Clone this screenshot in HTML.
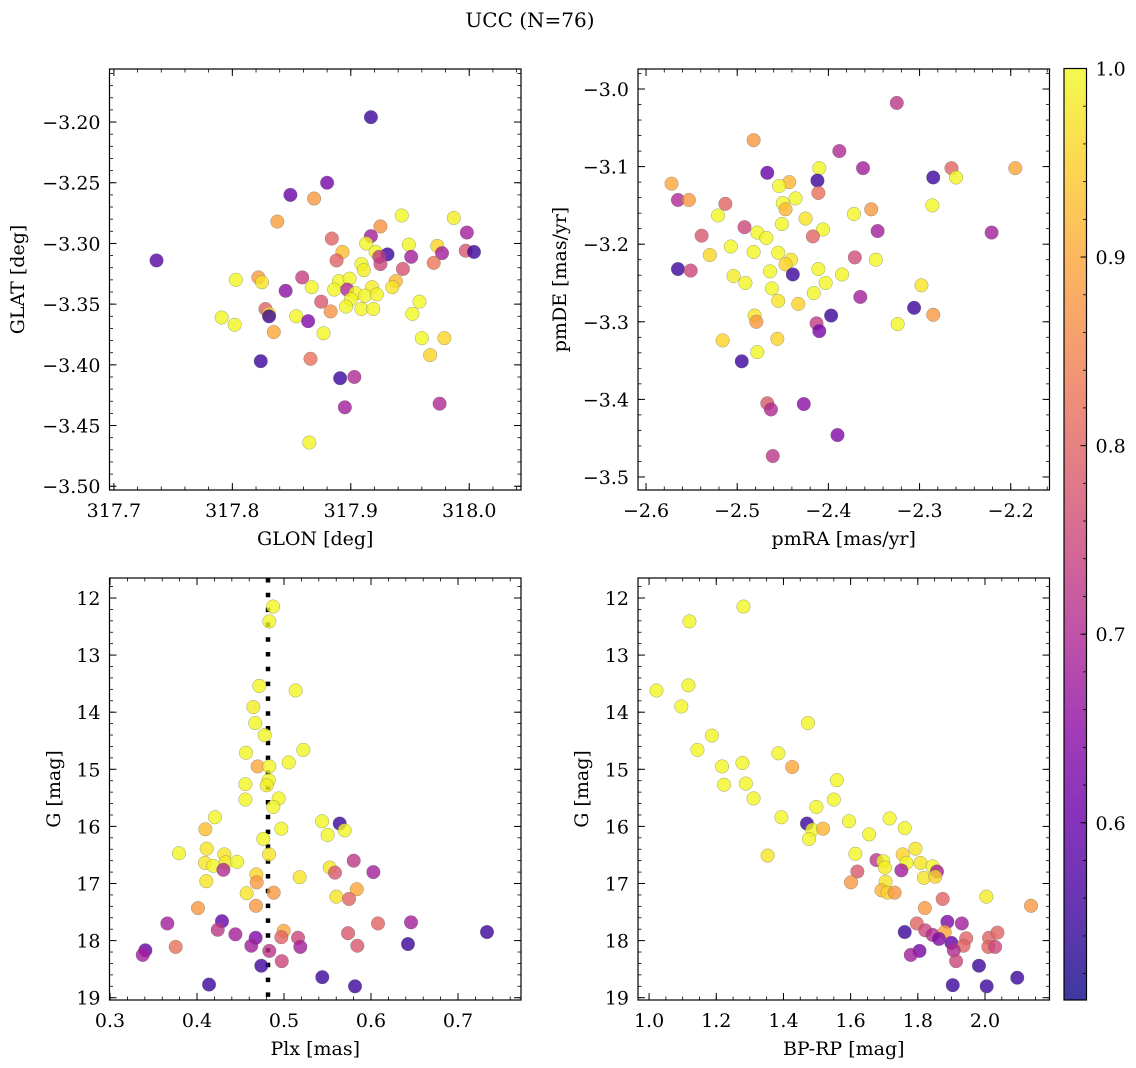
<!DOCTYPE html>
<html><head><meta charset="utf-8"><style>
html,body{margin:0;padding:0;background:#fff;}
svg{display:block;font-family:"DejaVu Serif","Liberation Serif",serif;}
</style></head><body>
<svg id="fig" width="1136" height="1068" viewBox="0 0 1136 1068" xmlns="http://www.w3.org/2000/svg">
<text x="530" y="27" font-size="20" text-anchor="middle">UCC (N=76)</text>
</svg>
<script>
// ---------- Panel 1 data: GLON / GLAT ----------
const glon = [317.917,317.736,317.880,317.849,317.869,317.838,317.943,317.987,317.925,317.917,317.998,317.884,317.913,317.949,317.973,317.997,318.004,317.893,317.921,317.931,317.977,317.951,317.888,317.925,317.970,317.909,317.911,317.944,317.803,317.822,317.825,317.859,317.867,317.890,317.899,317.938,317.935,317.918,317.886,317.897,317.845,317.904,317.912,317.922,317.900,317.958,317.875,317.896,317.909,317.919,317.883,317.828,317.831,317.831,317.952,317.854,317.791,317.802,317.864,317.835,317.877,317.960,317.979,317.967,317.866,317.824,317.891,317.903,317.895,317.975,317.865,317.924];
const glat = [-3.196,-3.314,-3.250,-3.260,-3.263,-3.282,-3.277,-3.279,-3.286,-3.294,-3.291,-3.296,-3.300,-3.301,-3.302,-3.306,-3.307,-3.307,-3.307,-3.309,-3.308,-3.311,-3.314,-3.317,-3.316,-3.317,-3.322,-3.321,-3.330,-3.328,-3.332,-3.328,-3.336,-3.331,-3.329,-3.331,-3.336,-3.336,-3.338,-3.338,-3.339,-3.341,-3.343,-3.342,-3.346,-3.348,-3.348,-3.352,-3.354,-3.354,-3.356,-3.354,-3.358,-3.360,-3.358,-3.360,-3.361,-3.367,-3.364,-3.373,-3.374,-3.378,-3.378,-3.392,-3.395,-3.397,-3.411,-3.410,-3.435,-3.432,-3.464,-3.311];
const prob1 = [0.55,0.58,0.62,0.6,0.88,0.89,1.0,0.985,0.87,0.68,0.68,0.8,0.995,0.995,0.955,0.78,0.55,0.93,0.995,0.55,0.68,0.68,0.8,0.75,0.83,0.995,0.985,0.77,0.995,0.88,0.975,0.74,0.995,0.995,0.995,0.92,0.975,0.985,0.995,0.7,0.65,0.995,0.995,0.995,0.995,1.0,0.78,0.995,0.995,0.995,0.87,0.8,0.975,0.55,1.0,0.995,0.995,0.995,0.63,0.9,0.995,1.0,0.96,0.955,0.82,0.55,0.55,0.7,0.68,0.7,0.995,0.73];
// ---------- Panel 2 data: pmRA / pmDE ----------
const pmra = [-2.325,-2.482,-2.388,-2.362,-2.410,-2.265,-2.195,-2.467,-2.285,-2.260,-2.412,-2.572,-2.443,-2.454,-2.411,-2.565,-2.553,-2.436,-2.513,-2.450,-2.447,-2.286,-2.353,-2.521,-2.372,-2.425,-2.451,-2.492,-2.406,-2.346,-2.221,-2.478,-2.468,-2.417,-2.539,-2.507,-2.482,-2.455,-2.530,-2.371,-2.348,-2.441,-2.447,-2.565,-2.551,-2.464,-2.411,-2.439,-2.504,-2.385,-2.491,-2.403,-2.462,-2.298,-2.416,-2.365,-2.455,-2.433,-2.306,-2.285,-2.397,-2.481,-2.479,-2.324,-2.413,-2.410,-2.516,-2.456,-2.478,-2.495,-2.467,-2.463,-2.427,-2.390,-2.461];
const pmde = [-3.018,-3.066,-3.080,-3.102,-3.102,-3.102,-3.102,-3.108,-3.114,-3.114,-3.118,-3.122,-3.120,-3.125,-3.134,-3.143,-3.143,-3.141,-3.148,-3.147,-3.155,-3.150,-3.155,-3.163,-3.161,-3.167,-3.174,-3.178,-3.181,-3.183,-3.185,-3.185,-3.192,-3.190,-3.189,-3.203,-3.210,-3.211,-3.214,-3.217,-3.220,-3.220,-3.226,-3.232,-3.234,-3.235,-3.232,-3.239,-3.241,-3.239,-3.250,-3.250,-3.257,-3.253,-3.263,-3.268,-3.273,-3.277,-3.282,-3.291,-3.292,-3.292,-3.300,-3.303,-3.302,-3.312,-3.324,-3.322,-3.339,-3.351,-3.405,-3.413,-3.406,-3.446,-3.473];
const prob2 = [0.72,0.88,0.7,0.68,0.995,0.8,0.9,0.6,0.55,0.995,0.55,0.9,0.92,0.995,0.82,0.7,0.88,0.995,0.8,0.995,0.92,0.995,0.88,0.995,0.995,0.975,0.995,0.75,0.995,0.68,0.68,0.995,0.995,0.8,0.78,0.995,0.995,0.995,0.96,0.76,0.995,0.975,0.955,0.55,0.75,0.995,0.995,0.55,0.985,0.995,0.995,0.995,0.995,0.975,0.995,0.68,0.975,0.955,0.55,0.88,0.55,0.975,0.88,0.995,0.73,0.62,0.955,0.955,0.995,0.55,0.78,0.7,0.65,0.63,0.72];
// ---------- Panel 3 data: Plx / G ----------
const plx = [0.4874,0.4831,0.4716,0.5134,0.4647,0.4670,0.4778,0.5222,0.4563,0.5054,0.4697,0.4831,0.4824,0.4556,0.4801,0.4556,0.4939,0.4877,0.4207,0.5437,0.5640,0.5697,0.4096,0.4969,0.5502,0.4762,0.3793,0.4111,0.4314,0.4828,0.5801,0.4092,0.4188,0.4330,0.4460,0.4303,0.5525,0.5586,0.6027,0.4107,0.4682,0.4686,0.5180,0.5836,0.4571,0.4881,0.5602,0.5747,0.4011,0.4678,0.3659,0.4287,0.6080,0.6460,0.7333,0.4238,0.4441,0.4674,0.4996,0.4969,0.5161,0.5736,0.4624,0.4831,0.5187,0.5843,0.6425,0.3755,0.3406,0.3376,0.4974,0.4739,0.5440,0.4138,0.5816];
const gmag3 = [12.15,12.41,13.54,13.62,13.91,14.19,14.40,14.66,14.71,14.88,14.95,14.95,15.19,15.26,15.28,15.53,15.51,15.66,15.84,15.91,15.95,16.07,16.05,16.04,16.15,16.22,16.47,16.39,16.49,16.49,16.60,16.64,16.69,16.63,16.62,16.76,16.72,16.81,16.80,16.96,16.84,16.98,16.89,17.10,17.17,17.16,17.23,17.27,17.43,17.39,17.70,17.66,17.70,17.68,17.85,17.81,17.89,17.95,17.83,17.94,17.95,17.87,18.09,18.18,18.11,18.09,18.06,18.11,18.17,18.25,18.36,18.44,18.64,18.77,18.80];
const prob3 = [0.995,0.995,0.995,0.995,0.985,0.995,0.995,0.995,0.995,0.995,0.9,0.995,0.995,0.995,0.985,0.995,0.995,0.995,0.995,0.995,0.55,0.995,0.93,0.995,0.995,0.995,0.995,0.975,0.975,0.975,0.72,0.975,0.995,0.985,0.995,0.7,0.975,0.78,0.68,0.975,0.955,0.88,0.975,0.9,0.975,0.88,0.975,0.8,0.88,0.88,0.68,0.6,0.8,0.68,0.55,0.72,0.68,0.63,0.9,0.8,0.75,0.78,0.68,0.72,0.68,0.78,0.55,0.82,0.6,0.68,0.75,0.55,0.55,0.55,0.55];
const plxLine = 0.4816;
// ---------- Panel 4 data: BP-RP / G ----------
const bprp = [1.281,1.120,1.022,1.117,1.096,1.473,1.187,1.144,1.385,1.426,1.217,1.278,1.223,1.288,1.559,1.311,1.550,1.498,1.394,1.595,1.470,1.716,1.486,1.518,1.476,1.761,1.655,1.353,1.614,1.793,1.677,1.697,1.755,1.766,1.808,1.702,1.620,1.751,1.844,1.857,1.818,1.852,1.601,1.704,1.692,1.710,1.731,2.004,1.874,2.137,1.821,1.797,1.888,1.931,1.761,1.822,1.844,1.880,1.863,1.944,2.012,2.037,1.900,1.936,2.010,2.030,1.907,1.805,1.779,1.914,1.982,2.096,1.904,2.005];
const gmag4 = [12.15,12.41,13.62,13.53,13.90,14.19,14.41,14.66,14.72,14.96,14.95,14.89,15.27,15.25,15.19,15.51,15.53,15.66,15.84,15.91,15.95,15.86,16.06,16.04,16.22,16.03,16.14,16.51,16.48,16.39,16.59,16.61,16.49,16.64,16.64,16.72,16.79,16.77,16.70,16.79,16.90,16.88,16.98,16.97,17.12,17.16,17.16,17.23,17.27,17.39,17.43,17.70,17.67,17.70,17.85,17.82,17.90,17.85,17.97,17.96,17.95,17.86,18.04,18.09,18.11,18.11,18.17,18.18,18.25,18.36,18.44,18.65,18.78,18.80];
const prob4 = [0.995,0.995,0.995,0.995,0.995,0.995,0.995,0.995,0.995,0.9,0.995,0.995,0.995,0.995,0.995,0.995,0.995,0.995,0.995,0.995,0.55,0.995,0.995,0.92,0.995,0.995,0.995,0.975,0.995,0.975,0.72,0.995,0.955,0.995,0.975,0.985,0.78,0.68,0.995,0.68,0.975,0.955,0.88,0.975,0.92,0.955,0.88,0.985,0.8,0.88,0.88,0.8,0.63,0.68,0.55,0.75,0.7,0.9,0.63,0.8,0.8,0.8,0.6,0.8,0.8,0.75,0.7,0.62,0.68,0.75,0.55,0.55,0.55,0.55];
// ---------- tick labels ----------
const ticks1x = [317.7,317.8,317.9,318.0];
const ticks1xLabels = ["317.7","317.8","317.9","318.0"];
const ticks1y = [-3.20,-3.25,-3.30,-3.35,-3.40,-3.45,-3.50];
const ticks1yLabels = ["−3.20","−3.25","−3.30","−3.35","−3.40","−3.45","−3.50"];
const ticks2x = [-2.6,-2.5,-2.4,-2.3,-2.2];
const ticks2xLabels = ["−2.6","−2.5","−2.4","−2.3","−2.2"];
const ticks2y = [-3.0,-3.1,-3.2,-3.3,-3.4,-3.5];
const ticks2yLabels = ["−3.0","−3.1","−3.2","−3.3","−3.4","−3.5"];
const ticks3x = [0.3,0.4,0.5,0.6,0.7];
const ticks3xLabels = ["0.3","0.4","0.5","0.6","0.7"];
const ticksGy = [12,13,14,15,16,17,18,19];
const ticksGyLabels = ["12","13","14","15","16","17","18","19"];
const ticks4x = [1.0,1.2,1.4,1.6,1.8,2.0];
const ticks4xLabels = ["1.0","1.2","1.4","1.6","1.8","2.0"];
const cbTicks = [0.6,0.7,0.8,0.9,1.0];
const cbTickLabels = ["0.6","0.7","0.8","0.9","1.0"];
const cbMin = 0.506, cbMax = 1.0;

const NS = "http://www.w3.org/2000/svg";
const svg = document.getElementById('fig');
const FS = 19;
function mk(tag, attrs, parent) {
  const e = document.createElementNS(NS, tag);
  for (const k in attrs) e.setAttribute(k, attrs[k]);
  (parent || svg).appendChild(e);
  return e;
}
const plasma = ["#0d0887","#41049d","#6a00a8","#8f0da4","#b12a90","#cc4778","#e16462","#f2844b","#fca636","#fcce25","#f0f921"];
function hex(h){return [parseInt(h.substr(1,2),16),parseInt(h.substr(3,2),16),parseInt(h.substr(5,2),16)];}
function cmap(v) {
  let t = (v - cbMin) / (cbMax - cbMin); t = Math.max(0, Math.min(1, t));
  const s = t * 10, i = Math.min(9, Math.floor(s)), f = s - i;
  const a = hex(plasma[i]), b = hex(plasma[i + 1]);
  return "rgb(" + a.map((c, k) => Math.round(c + (b[k] - c) * f)).join(",") + ")";
}
function fmtRange(a, b, step) { const r = []; const n = Math.round((b - a) / step); for (let i = 0; i <= n; i++) r.push(a + i * step); return r; }

function panel(o) {
  const g = mk('g', {}, svg);
  
  
  const X = v => o.x0 + (v - o.xd[0]) / (o.xd[1] - o.xd[0]) * (o.x1 - o.x0);
  const Y = v => o.yInv ? o.y0 + (v - o.yd[0]) / (o.yd[1] - o.yd[0]) * (o.y1 - o.y0)
                        : o.y1 - (v - o.yd[0]) / (o.yd[1] - o.yd[0]) * (o.y1 - o.y0);
  const clipId = 'c' + o.name;
  const cp = mk('clipPath', { id: clipId }, g);
  mk('rect', { x: o.x0, y: o.y0, width: o.x1 - o.x0, height: o.y1 - o.y0 }, cp);
  const pts = mk('g', { 'clip-path': 'url(#' + clipId + ')' }, g);
  
  
  if (o.vline !== undefined) {
    const l = mk('line', { x1: X(o.vline), x2: X(o.vline), y1: o.y0, y2: o.y1, stroke: '#000', 'stroke-width': 4.5, 'stroke-dasharray': '4.5 10.3' }, pts);
    
    
  }
  for (let i = 0; i < o.xs.length; i++) {
    const c = mk('circle', { cx: X(o.xs[i]).toFixed(2), cy: Y(o.ys[i]).toFixed(2), r: 6.8, fill: cmap(o.ps[i]), 'fill-opacity': 0.8, stroke: '#666', 'stroke-opacity': 0.6, 'stroke-width': 0.5 }, pts);
    
    
  }
  for (const v of o.xminor) { const px = X(v); if (px < o.x0 - 0.5 || px > o.x1 + 0.5) continue;
    mk('line', { x1: px, x2: px, y1: o.y1, y2: o.y1 - 3.5, stroke: '#000', 'stroke-width': 0.8 }, g);
    mk('line', { x1: px, x2: px, y1: o.y0, y2: o.y0 + 3.5, stroke: '#000', 'stroke-width': 0.8 }, g); }
  for (const v of o.yminor) { const py = Y(v); if (py < o.y0 - 0.5 || py > o.y1 + 0.5) continue;
    mk('line', { x1: o.x0, x2: o.x0 + 3.5, y1: py, y2: py, stroke: '#000', 'stroke-width': 0.8 }, g);
    mk('line', { x1: o.x1, x2: o.x1 - 3.5, y1: py, y2: py, stroke: '#000', 'stroke-width': 0.8 }, g); }
  o.xt.forEach((v, i) => { const px = X(v);
    mk('line', { x1: px, x2: px, y1: o.y1, y2: o.y1 - 7, stroke: '#000', 'stroke-width': 1 }, g);
    mk('line', { x1: px, x2: px, y1: o.y0, y2: o.y0 + 7, stroke: '#000', 'stroke-width': 1 }, g);
    const t = mk('text', { x: px, y: o.y1 + 27, 'font-size': FS, 'text-anchor': 'middle' }, g);
    t.textContent = o.xtl[i];
    
     });
  o.yt.forEach((v, i) => { const py = Y(v);
    mk('line', { x1: o.x0, x2: o.x0 + 7, y1: py, y2: py, stroke: '#000', 'stroke-width': 1 }, g);
    mk('line', { x1: o.x1, x2: o.x1 - 7, y1: py, y2: py, stroke: '#000', 'stroke-width': 1 }, g);
    const t = mk('text', { x: o.x0 - 9, y: py + 7, 'font-size': FS, 'text-anchor': 'end' }, g);
    t.textContent = o.ytl[i];
    
     });
  const fr = mk('rect', { x: o.x0, y: o.y0, width: o.x1 - o.x0, height: o.y1 - o.y0, fill: 'none', stroke: '#000', 'stroke-width': 1.2 }, g);
  
  
  const xl = mk('text', { x: (o.x0 + o.x1) / 2, y: o.y1 + 55, 'font-size': FS, 'text-anchor': 'middle' }, g);
  xl.textContent = o.xlabel;
  
  
  const yc = (o.y0 + o.y1) / 2;
  const yl = mk('text', { x: o.ylx, y: yc, 'font-size': FS, 'text-anchor': 'middle', transform: 'rotate(-90 ' + o.ylx + ' ' + yc + ')' }, g);
  yl.textContent = o.ylabel;
  
  
}

panel({ name: 'glon-glat-panel', x0: 109.5, x1: 521, y0: 69, y1: 490, xd: [317.6963, 318.0437], yd: [-3.5031, -3.1563],
  xs: glon, ys: glat, ps: prob1, xt: ticks1x, xtl: ticks1xLabels, yt: ticks1y, ytl: ticks1yLabels,
  xminor: fmtRange(317.68, 318.06, 0.02), yminor: fmtRange(-3.52, -3.15, 0.01), xlabel: 'GLON [deg]', ylabel: 'GLAT [deg]', ylx: 24 });
panel({ name: 'pm-panel', x0: 638, x1: 1049.5, y0: 69, y1: 490, xd: [-2.6088, -2.1575], yd: [-3.5168, -2.9742],
  xs: pmra, ys: pmde, ps: prob2, xt: ticks2x, xtl: ticks2xLabels, yt: ticks2y, ytl: ticks2yLabels,
  xminor: fmtRange(-2.62, -2.14, 0.02), yminor: fmtRange(-3.52, -2.96, 0.02), xlabel: 'pmRA [mas/yr]', ylabel: 'pmDE [mas/yr]', ylx: 566 });
panel({ name: 'plx-g-panel', x0: 109.5, x1: 521, y0: 578, y1: 1000, xd: [0.2994, 0.7724], yd: [11.65, 19.04], yInv: true, vline: plxLine,
  xs: plx, ys: gmag3, ps: prob3, xt: ticks3x, xtl: ticks3xLabels, yt: ticksGy, ytl: ticksGyLabels,
  xminor: fmtRange(0.28, 0.78, 0.02), yminor: fmtRange(11.6, 19.2, 0.2), xlabel: 'Plx [mas]', ylabel: 'G [mag]', ylx: 60 });
panel({ name: 'cmd-panel', x0: 638, x1: 1049.5, y0: 578, y1: 1000, xd: [0.967, 2.192], yd: [11.65, 19.04], yInv: true,
  xs: bprp, ys: gmag4, ps: prob4, xt: ticks4x, xtl: ticks4xLabels, yt: ticksGy, ytl: ticksGyLabels,
  xminor: fmtRange(0.95, 2.2, 0.05), yminor: fmtRange(11.6, 19.2, 0.2), xlabel: 'BP-RP [mag]', ylabel: 'G [mag]', ylx: 588 });

(function () {
  const cx0 = 1064, cx1 = 1086.5, cy0 = 68.5, cy1 = 1000;
  const g = mk('g', {}, svg);
  
  
  const defs = mk('defs', {}, g);
  const lg = mk('linearGradient', { id: 'cbgrad', x1: 0, y1: 1, x2: 0, y2: 0 }, defs);
  for (let i = 0; i <= 20; i++) { const v = cbMin + (cbMax - cbMin) * i / 20;
    mk('stop', { offset: (i / 20), 'stop-color': cmap(v), 'stop-opacity': 0.8 }, lg); }
  mk('rect', { x: cx0, y: cy0, width: cx1 - cx0, height: cy1 - cy0, fill: 'url(#cbgrad)', stroke: '#000', 'stroke-width': 1.2 }, g);
  const Y = v => cy1 - (v - cbMin) / (cbMax - cbMin) * (cy1 - cy0);
  for (const v of fmtRange(0.52, 1.0, 0.02)) { const py = Y(v);
    mk('line', { x1: cx1, x2: cx1 - 3.5, y1: py, y2: py, stroke: '#000', 'stroke-width': 0.8 }, g); }
  cbTicks.forEach((v, i) => { const py = Y(v);
    mk('line', { x1: cx1, x2: cx1 - 6, y1: py, y2: py, stroke: '#000', 'stroke-width': 1 }, g);
    const t = mk('text', { x: cx1 + 9, y: py + 7, 'font-size': FS }, g);
    t.textContent = cbTickLabels[i];
    
     });
})();
</script>
</body></html>
